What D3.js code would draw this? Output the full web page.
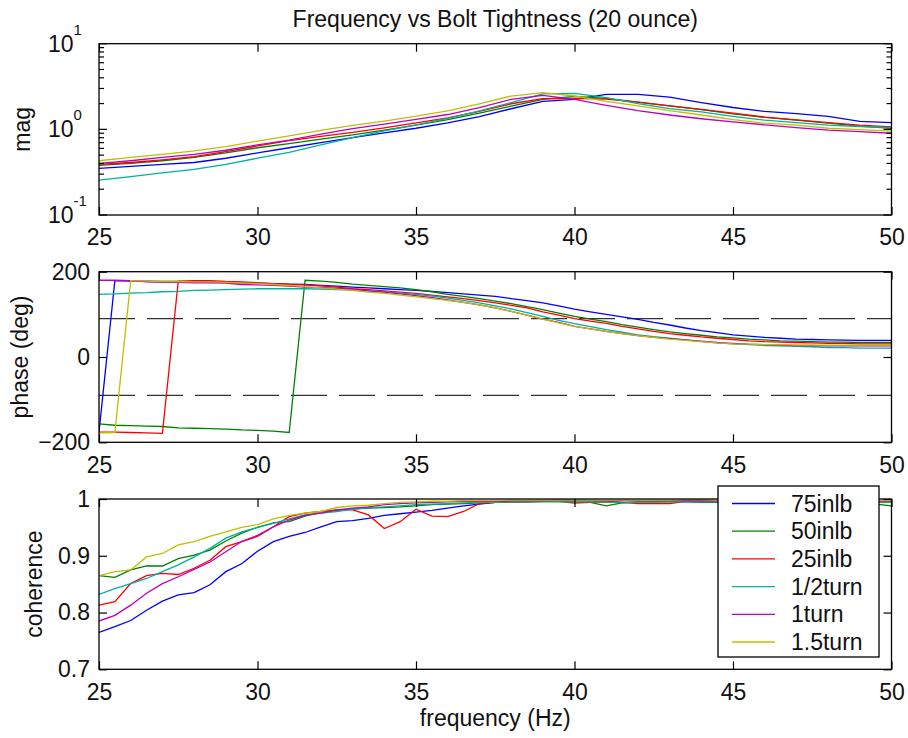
<!DOCTYPE html>
<html>
<head>
<meta charset="utf-8">
<script src="https://cdn.jsdelivr.net/npm/d3@7"></script>
<style>
body { margin: 0; background: #fff; }
text { font-family: "Liberation Sans", Arial, Helvetica, sans-serif; fill: #111; }
</style>
</head>
<body>
<svg id="chart" width="908" height="738"></svg>
<script>
// ---- data ----
const seriesNames = ["75inlb", "50inlb", "25inlb", "1/2turn", "1turn", "1.5turn"];
const seriesColors = ["#0000ff", "#008000", "#ff0000", "#00b0a0", "#bf00bf", "#bfbf00"];

const freqMag = [25, 26, 27, 28, 29, 30, 31, 32, 33, 34, 35, 36, 37, 38, 39, 40, 41, 42, 43, 44, 45, 46, 47, 48, 49, 50];

const mag75 = [0.35, 0.37, 0.39, 0.41, 0.46, 0.53, 0.61, 0.70, 0.80, 0.91, 1.03, 1.19, 1.41, 1.74, 2.12, 2.24, 2.56, 2.56, 2.38, 2.05, 1.80, 1.62, 1.53, 1.42, 1.24, 1.20];
const mag50 = [0.38, 0.40, 0.43, 0.47, 0.53, 0.61, 0.68, 0.77, 0.86, 0.98, 1.12, 1.30, 1.55, 1.87, 2.24, 2.42, 2.30, 2.08, 1.88, 1.70, 1.52, 1.38, 1.28, 1.18, 1.09, 1.03];
const mag25 = [0.39, 0.41, 0.44, 0.48, 0.55, 0.64, 0.74, 0.83, 0.92, 1.04, 1.19, 1.36, 1.62, 1.99, 2.28, 2.30, 2.25, 2.08, 1.88, 1.71, 1.55, 1.39, 1.29, 1.20, 1.12, 1.07];
const magHalf = [0.256, 0.28, 0.31, 0.34, 0.39, 0.46, 0.54, 0.66, 0.80, 0.96, 1.13, 1.34, 1.64, 2.05, 2.60, 2.63, 2.35, 2.00, 1.75, 1.60, 1.42, 1.28, 1.20, 1.12, 1.08, 1.05];
const mag1 = [0.40, 0.43, 0.47, 0.51, 0.57, 0.66, 0.75, 0.88, 1.02, 1.15, 1.31, 1.49, 1.79, 2.24, 2.49, 2.24, 1.90, 1.65, 1.47, 1.33, 1.22, 1.13, 1.05, 0.98, 0.94, 0.90];
const mag15 = [0.43, 0.47, 0.51, 0.56, 0.63, 0.73, 0.84, 0.97, 1.11, 1.25, 1.43, 1.64, 1.98, 2.45, 2.68, 2.45, 2.12, 1.88, 1.65, 1.47, 1.30, 1.18, 1.12, 1.03, 0.99, 0.955];

const freq = [25, 25.5, 26, 26.5, 27, 27.5, 28, 28.5, 29, 29.5,
  30, 30.5, 31, 31.5, 32, 32.5, 33, 33.5, 34, 34.5,
  35, 35.5, 36, 36.5, 37, 37.5, 38, 38.5, 39, 39.5,
  40, 40.5, 41, 41.5, 42, 42.5, 43, 43.5, 44, 44.5,
  45, 45.5, 46, 46.5, 47, 47.5, 48, 48.5, 49, 49.5, 50];

const phase75 = [-176, 179, 178, 178, 177, 177, 176, 176, 175, 174,
  173, 172, 171, 170, 168, 166, 164, 162, 160, 158,
  156, 154, 151, 148, 145, 142, 137, 132, 127, 120,
  112, 106, 100, 94, 88, 81, 75, 68, 62, 57,
  52, 49, 46, 44, 42, 41, 40, 39.5, 39, 39, 39];
const phase50 = [-157, -160, -161, -162, -163, -166, -167, -168, -169, -171,
  -172, -174, -177, 180, 178, 175, 171, 168, 165, 162,
  158, 153, 147, 142, 137, 131, 125, 118, 111, 103,
  95, 89, 83, 76, 70, 64, 59, 55, 51, 47,
  45, 42, 40, 38, 37, 36, 35, 35, 34, 34, 34];
const phase25 = [-176, -176, -177, -178, -179, 178, 179, 179, 177, 176,
  174, 172, 170, 169, 167, 164, 160, 158, 155, 152,
  149, 145, 141, 137, 132, 127, 121, 115, 106, 98,
  90, 84, 79, 72, 66, 60, 55, 51, 47, 44,
  41, 38, 36, 35, 34, 33, 32, 32, 31, 31, 31];
const phaseHalf = [147, 148, 150, 151, 153, 154, 156, 157, 158, 159,
  160, 160, 160, 160, 159, 158, 157, 155, 153, 150,
  147, 143, 138, 133, 127, 120, 113, 104, 95, 86,
  78, 71, 64, 58, 52, 48, 44, 40, 36, 33,
  31, 29, 27, 26, 25, 24, 22, 22, 21, 21, 21];
const phase1 = [180, 180, 179, 176, 175, 175, 174, 174, 173, 170,
  169, 168, 166, 164, 163, 161, 159, 155, 152, 148,
  144, 139, 134, 128, 122, 115, 107, 98, 89, 81,
  72, 66, 60, 55, 50, 46, 43, 40, 37, 34,
  32, 30, 29, 28, 27, 27, 26, 26, 26, 26, 26];
const phase15 = [-178, -177, 179, 178, 177, 177, 176, 176, 175, 174,
  172, 170, 168, 165, 162, 159, 156, 152, 149, 145,
  141, 137, 133, 128, 122, 115, 107, 98, 89, 80,
  72, 66, 60, 55, 50, 46, 42, 39, 36, 33,
  31, 30, 29, 29, 28, 28, 28, 28, 28, 28, 28];

const coh75 = [0.765, 0.775, 0.786, 0.804, 0.820, 0.831, 0.835, 0.849, 0.872, 0.886,
  0.908, 0.925, 0.934, 0.941, 0.951, 0.960, 0.962, 0.966, 0.971, 0.974,
  0.977, 0.980, 0.984, 0.988, 0.991, 0.994, 0.995, 0.996, 0.997, 0.997,
  0.997, 0.997, 0.996, 0.997, 0.997, 0.997, 0.997, 0.997, 0.996, 0.996,
  0.996, 0.996, 0.996, 0.997, 0.997, 0.996, 0.996, 0.996, 0.996, 0.995, 0.995];
const coh50 = [0.865, 0.862, 0.875, 0.882, 0.882, 0.895, 0.901, 0.910, 0.926, 0.940,
  0.950, 0.958, 0.960, 0.970, 0.977, 0.980, 0.982, 0.984, 0.985, 0.986,
  0.988, 0.990, 0.991, 0.992, 0.993, 0.994, 0.995, 0.995, 0.996, 0.996,
  0.995, 0.994, 0.988, 0.993, 0.995, 0.995, 0.995, 0.995, 0.994, 0.994,
  0.993, 0.994, 0.994, 0.994, 0.994, 0.993, 0.993, 0.992, 0.992, 0.991, 0.988];
const coh25 = [0.813, 0.819, 0.851, 0.865, 0.869, 0.867, 0.878, 0.892, 0.916, 0.925,
  0.934, 0.951, 0.969, 0.975, 0.978, 0.981, 0.981, 0.972, 0.948, 0.960,
  0.982, 0.970, 0.969, 0.978, 0.992, 0.994, 0.995, 0.995, 0.996, 0.996,
  0.993, 0.994, 0.995, 0.994, 0.992, 0.992, 0.992, 0.996, 0.996, 0.996,
  0.995, 0.996, 0.996, 0.996, 0.995, 0.995, 0.996, 0.995, 0.995, 0.995, 0.995];
const cohHalf = [0.832, 0.842, 0.851, 0.860, 0.872, 0.884, 0.898, 0.913, 0.931, 0.942,
  0.950, 0.957, 0.965, 0.972, 0.975, 0.978, 0.982, 0.985, 0.986, 0.988,
  0.990, 0.991, 0.992, 0.993, 0.994, 0.994, 0.995, 0.995, 0.995, 0.995,
  0.995, 0.995, 0.995, 0.993, 0.994, 0.994, 0.995, 0.995, 0.995, 0.995,
  0.995, 0.995, 0.995, 0.995, 0.995, 0.995, 0.995, 0.994, 0.994, 0.994, 0.994];
const coh1 = [0.785, 0.795, 0.813, 0.834, 0.851, 0.863, 0.876, 0.889, 0.907, 0.925,
  0.936, 0.951, 0.963, 0.971, 0.975, 0.981, 0.984, 0.986, 0.990, 0.992,
  0.993, 0.994, 0.995, 0.996, 0.996, 0.996, 0.997, 0.997, 0.997, 0.998,
  0.998, 0.997, 0.997, 0.997, 0.997, 0.997, 0.997, 0.997, 0.997, 0.997,
  0.997, 0.997, 0.997, 0.997, 0.997, 0.997, 0.996, 0.996, 0.996, 0.996, 0.996];
const coh15 = [0.865, 0.872, 0.875, 0.898, 0.904, 0.919, 0.925, 0.934, 0.942, 0.950,
  0.955, 0.965, 0.971, 0.975, 0.978, 0.985, 0.988, 0.989, 0.992, 0.994,
  0.995, 0.996, 0.996, 0.997, 0.997, 0.997, 0.998, 0.998, 0.998, 0.998,
  0.998, 0.998, 0.998, 0.998, 0.998, 0.998, 0.998, 0.999, 0.999, 0.998,
  0.998, 0.998, 0.998, 0.998, 0.998, 0.998, 0.997, 0.997, 0.997, 0.997, 0.997];

const magSeries = [mag75, mag50, mag25, magHalf, mag1, mag15];
const phaseSeries = [phase75, phase50, phase25, phaseHalf, phase1, phase15];
const cohSeries = [coh75, coh50, coh25, cohHalf, coh1, coh15];

const freqTicks = [25, 30, 35, 40, 45, 50];
const phaseTicks = [-200, 0, 200];
const phaseRefLines = [90, -90];
const cohTicks = [0.7, 0.8, 0.9, 1];

// ---- layout ----
const svg = d3.select("#chart");
const x0 = 99, x1 = 891.5;
const fontSize = 23;
const tickLen = 8;

const x = d3.scaleLinear().domain([25, 50]).range([x0, x1]);

const panels = [
    { id: "mag", top: 43.7, bottom: 215 },
    { id: "phase", top: 271.7, bottom: 442.3 },
    { id: "coh", top: 499, bottom: 669.3 }
];

const yMag = d3.scaleLog().domain([0.1, 10]).range([panels[0].bottom, panels[0].top]);
const yPhase = d3.scaleLinear().domain([-200, 200]).range([panels[1].bottom, panels[1].top]);
const yCoh = d3.scaleLinear().domain([0.7, 1]).range([panels[2].bottom, panels[2].top]);

const defs = svg.append("defs");
panels.forEach(p => {
    defs.append("clipPath").attr("id", "clip-" + p.id)
        .append("rect")
        .attr("x", x0).attr("y", p.top)
        .attr("width", x1 - x0).attr("height", p.bottom - p.top);
});

function drawXTicks(p, labels) {
    const bottomAxis = d3.axisBottom(x).tickValues(freqTicks)
        .tickSize(-tickLen).tickPadding(14)
        .tickFormat(labels ? d3.format("d") : "");
    const g = svg.append("g").attr("transform", `translate(0,${p.bottom})`).call(bottomAxis);
    g.select(".domain").remove();
    g.selectAll("text").style("font-size", fontSize + "px").attr("fill", "#111");

    const topAxis = d3.axisTop(x).tickValues(freqTicks).tickSize(-tickLen).tickFormat("");
    const gt = svg.append("g").attr("transform", `translate(0,${p.top})`).call(topAxis);
    gt.select(".domain").remove();
    svg.selectAll(".tick line").attr("stroke", "#000").attr("stroke-width", 1.2);
}

function drawYTicks(y, ticks, fmt) {
    const leftAxis = d3.axisLeft(y).tickValues(ticks).tickSize(-tickLen).tickPadding(9).tickFormat(fmt);
    const gl = svg.append("g").attr("transform", `translate(${x0},0)`).call(leftAxis);
    gl.select(".domain").remove();
    gl.selectAll("text").style("font-size", fontSize + "px").attr("fill", "#111");
    const rightAxis = d3.axisRight(y).tickValues(ticks).tickSize(-tickLen).tickFormat("");
    const gr = svg.append("g").attr("transform", `translate(${x1},0)`).call(rightAxis);
    gr.select(".domain").remove();
    svg.selectAll(".tick line").attr("stroke", "#000").attr("stroke-width", 1.2);
}

function drawFrame(p) {
    svg.append("rect")
        .attr("x", x0).attr("y", p.top)
        .attr("width", x1 - x0).attr("height", p.bottom - p.top)
        .attr("fill", "none").attr("stroke", "#000").attr("stroke-width", 1.3);
}

function drawLines(p, xs, ys, series) {
    const g = svg.append("g").attr("clip-path", `url(#clip-${p.id})`);
    const line = d3.line().x(d => x(d[0])).y(d => ys(d[1]));
    series.forEach((vals, i) => {
        g.append("path")
            .datum(xs.map((f, k) => [f, vals[k]]))
            .attr("d", line)
            .attr("fill", "none")
            .attr("stroke", seriesColors[i])
            .attr("stroke-width", 1.3);
    });
}

function yLabel(text, xPos, cy) {
    svg.append("text")
        .attr("transform", `translate(${xPos},${cy}) rotate(-90)`)
        .attr("text-anchor", "middle")
        .style("font-size", fontSize + "px")
        .text(text);
}

// ---- title ----
svg.append("text")
    .attr("x", (x0 + x1) / 2).attr("y", 27)
    .attr("text-anchor", "middle")
    .style("font-size", fontSize + "px")
    .text("Frequency vs Bolt Tightness (20 ounce)");

// ---- magnitude panel ----
const pm = panels[0];
drawLines(pm, freqMag, yMag, magSeries);
drawXTicks(pm, true);
yMag.ticks().forEach(v => {
    const major = Math.abs(Math.log10(v) - Math.round(Math.log10(v))) < 1e-9;
    const len = major ? tickLen : 5;
    const yy = yMag(v);
    svg.append("line").attr("x1", x0).attr("x2", x0 + len).attr("y1", yy).attr("y2", yy)
        .attr("stroke", "#000").attr("stroke-width", 1.2);
    svg.append("line").attr("x1", x1).attr("x2", x1 - len).attr("y1", yy).attr("y2", yy)
        .attr("stroke", "#000").attr("stroke-width", 1.2);
    if (major) {
        const t = svg.append("text").attr("x", 48).attr("y", yy + 8)
            .style("font-size", fontSize + "px");
        t.append("tspan").text("10");
        t.append("tspan").attr("dy", -17).style("font-size", "15px")
            .text(String(Math.round(Math.log10(v))));
    }
});
drawFrame(pm);
yLabel("mag", 30, (pm.top + pm.bottom) / 2);

// ---- phase panel ----
const pp = panels[1];
svg.append("g").selectAll("line")
    .data(phaseRefLines)
    .enter().append("line")
    .attr("x1", x0).attr("x2", x1)
    .attr("y1", d => yPhase(d)).attr("y2", d => yPhase(d))
    .attr("stroke", "#333").attr("stroke-width", 1.3)
    .attr("stroke-dasharray", "36,12");
drawLines(pp, freq, yPhase, phaseSeries);
drawXTicks(pp, true);
drawYTicks(yPhase, phaseTicks, d3.format("d"));
drawFrame(pp);
yLabel("phase (deg)", 28, (pp.top + pp.bottom) / 2);

// ---- coherence panel ----
const pc = panels[2];
drawLines(pc, freq, yCoh, cohSeries);
drawXTicks(pc, true);
drawYTicks(yCoh, cohTicks, d => d === 1 ? "1" : d3.format(".1f")(d));
drawFrame(pc);
yLabel("coherence", 42, (pc.top + pc.bottom) / 2);

svg.append("text")
    .attr("x", (x0 + x1) / 2).attr("y", 726)
    .attr("text-anchor", "middle")
    .style("font-size", fontSize + "px")
    .text("frequency (Hz)");

// ---- legend ----
const legend = svg.append("g");
legend.append("rect")
    .attr("x", 718).attr("y", 486)
    .attr("width", 161).attr("height", 171)
    .attr("fill", "#fff").attr("stroke", "#000").attr("stroke-width", 1.3);
seriesNames.forEach((name, i) => {
    const yy = 503.5 + i * 27.7;
    legend.append("line")
        .attr("x1", 732).attr("x2", 775).attr("y1", yy).attr("y2", yy)
        .attr("stroke", seriesColors[i]).attr("stroke-width", 1.3);
    legend.append("text")
        .attr("x", 791).attr("y", yy).attr("dy", "0.35em")
        .style("font-size", fontSize + "px")
        .text(name);
});
</script>
</body>
</html>
